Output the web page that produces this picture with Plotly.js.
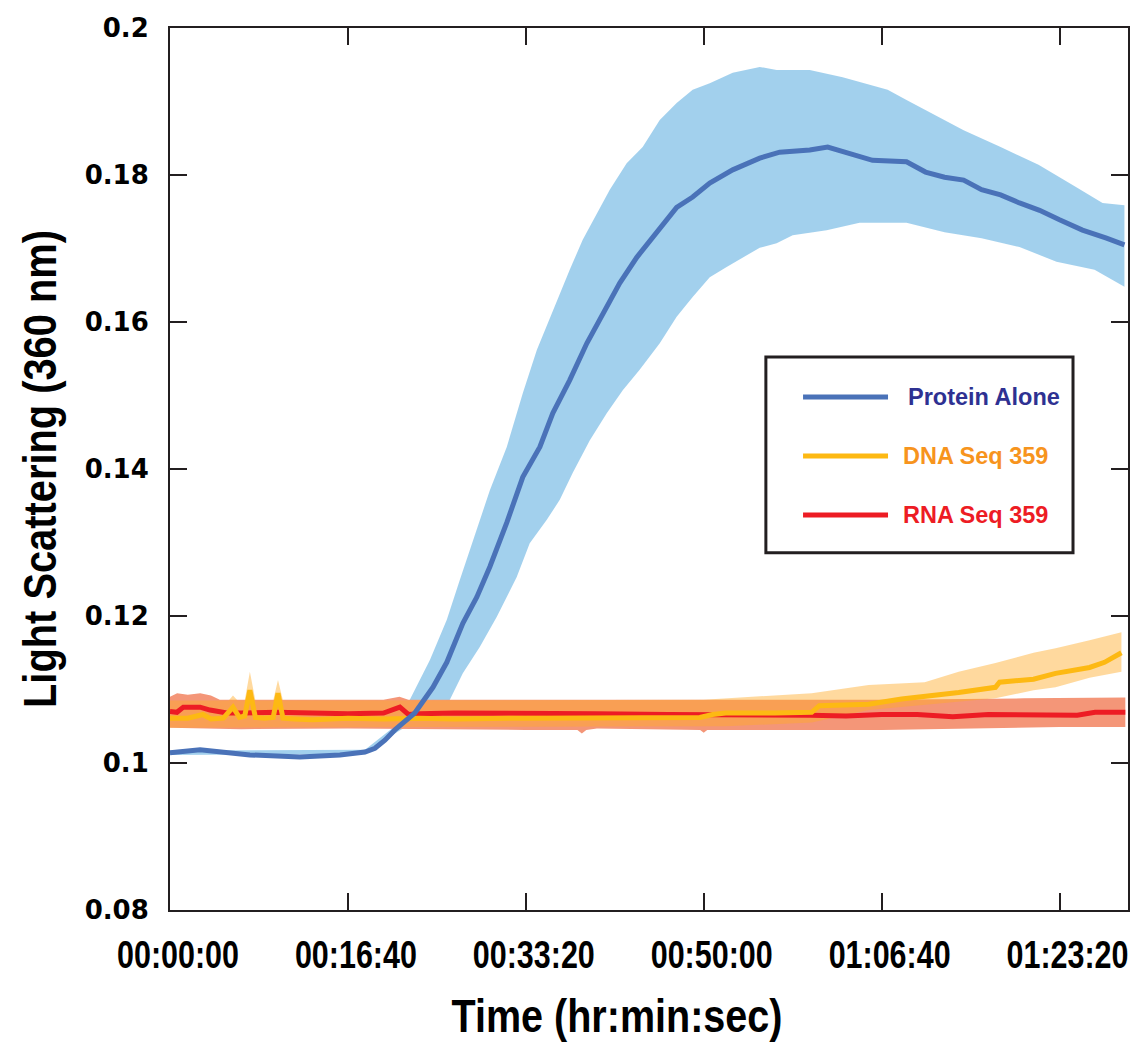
<!DOCTYPE html>
<html>
<head>
<meta charset="utf-8">
<script src="https://cdn.plot.ly/plotly-3.0.1.min.js"></script>
<style>
  html, body { margin: 0; padding: 0; background: #ffffff; }
  #chart { width: 1140px; height: 1043px; }
</style>
</head>
<body>
<div id="chart"></div>
<script>
// ---- Data (time in seconds, light scattering at 360 nm) ----
const tickSeconds = [0, 1000, 2000, 3000, 4000, 5000];
const tickLabels = ["00:00:00", "00:16:40", "00:33:20", "00:50:00", "01:06:40", "01:23:20"];

// Protein Alone (mean)
const proteinT = [0, 169, 449, 730, 955, 1096, 1152, 1208, 1264, 1320, 1376, 1478, 1556, 1646, 1725, 1798, 1893, 1983, 2079, 2152, 2247, 2343, 2433, 2528, 2624, 2736, 2848, 2938, 3034, 3163, 3315, 3427, 3596, 3697, 3803, 3949, 4140, 4247, 4354, 4461, 4562, 4669, 4775, 4888, 5000, 5129, 5264, 5365];
const proteinY = [0.1014, 0.1018, 0.1011, 0.1008, 0.1011, 0.1015, 0.1020, 0.1031, 0.1045, 0.1056, 0.1068, 0.1103, 0.1137, 0.1190, 0.1226, 0.1267, 0.1327, 0.1389, 0.1430, 0.1476, 0.1521, 0.1571, 0.1610, 0.1653, 0.1688, 0.1721, 0.1756, 0.1770, 0.1789, 0.1807, 0.1823, 0.1831, 0.1834, 0.1838, 0.1830, 0.1820, 0.1818, 0.1804, 0.1797, 0.1793, 0.1780, 0.1773, 0.1762, 0.1752, 0.1739, 0.1725, 0.1714, 0.1705];
// Protein Alone band
const proteinUpT = [0, 1096, 1264, 1348, 1461, 1556, 1629, 1742, 1798, 1893, 1983, 2062, 2152, 2247, 2320, 2399, 2472, 2567, 2657, 2753, 2848, 2938, 3034, 3163, 3315, 3410, 3596, 3781, 3876, 4034, 4140, 4247, 4461, 4669, 4882, 5090, 5242, 5365];
const proteinUpY = [0.1017, 0.1018, 0.1050, 0.1086, 0.1140, 0.1195, 0.1249, 0.1331, 0.1371, 0.1430, 0.1503, 0.1562, 0.1616, 0.1671, 0.1712, 0.1748, 0.1780, 0.1816, 0.1838, 0.1875, 0.1898, 0.1916, 0.1925, 0.1939, 0.1947, 0.1943, 0.1943, 0.1933, 0.1927, 0.1916, 0.1902, 0.1888, 0.1861, 0.1838, 0.1814, 0.1784, 0.1762, 0.1759];
const proteinLoT = [0, 1096, 1264, 1573, 1646, 1742, 1837, 1949, 2022, 2118, 2191, 2264, 2360, 2455, 2545, 2640, 2753, 2848, 2938, 3034, 3129, 3219, 3315, 3410, 3500, 3691, 3876, 4140, 4354, 4562, 4775, 4983, 5197, 5365];
const proteinLoY = [0.1011, 0.1012, 0.1040, 0.1086, 0.1122, 0.1158, 0.1199, 0.1253, 0.1299, 0.1331, 0.1358, 0.1395, 0.1439, 0.1476, 0.1507, 0.1535, 0.1571, 0.1607, 0.1634, 0.1661, 0.1675, 0.1688, 0.1701, 0.1707, 0.1718, 0.1725, 0.1735, 0.1735, 0.1722, 0.1714, 0.1702, 0.1682, 0.1671, 0.1648];

// DNA Seq 359 (mean)
const dnaT = [0, 100, 185, 230, 300, 354, 390, 420, 449, 480, 530, 580, 607, 635, 700, 800, 1000, 1200, 1400, 1600, 2000, 2400, 2800, 2978, 3050, 3124, 3400, 3607, 3650, 3927, 4112, 4242, 4433, 4640, 4663, 4854, 4978, 5169, 5253, 5348];
const dnaY = [0.1061, 0.1061, 0.1066, 0.1060, 0.1061, 0.1076, 0.1062, 0.1064, 0.1099, 0.1062, 0.1061, 0.1062, 0.1095, 0.1061, 0.1060, 0.1059, 0.1061, 0.1060, 0.1061, 0.1060, 0.1061, 0.1061, 0.1061, 0.1062, 0.1066, 0.1068, 0.1068, 0.1069, 0.1078, 0.1080, 0.1087, 0.1090, 0.1096, 0.1103, 0.1110, 0.1114, 0.1122, 0.1130, 0.1137, 0.1150];
// DNA band
const dnaUpT = [0, 300, 330, 354, 380, 420, 449, 480, 580, 607, 635, 3000, 3124, 3607, 3927, 4242, 4433, 4640, 4854, 4978, 5169, 5348];
const dnaUpY = [0.1085, 0.1085, 0.1085, 0.1092, 0.1085, 0.1085, 0.1124, 0.1085, 0.1085, 0.1113, 0.1085, 0.1086, 0.1088, 0.1095, 0.1106, 0.1110, 0.1124, 0.1136, 0.1150, 0.1156, 0.1167, 0.1178];
const dnaLoT = [0, 3124, 3607, 3927, 4242, 4640, 4854, 4978, 5169, 5348];
const dnaLoY = [0.1048, 0.1050, 0.1055, 0.1072, 0.1079, 0.1088, 0.1099, 0.1103, 0.1116, 0.1124];

// RNA Seq 359 (mean)
const rnaT = [0, 39, 75, 169, 225, 320, 400, 600, 800, 1000, 1200, 1292, 1340, 1400, 1600, 2000, 2400, 2800, 3200, 3600, 3800, 4000, 4200, 4400, 4600, 4800, 5000, 5100, 5200, 5300, 5370];
const rnaY = [0.1070, 0.1069, 0.1076, 0.1076, 0.1072, 0.1068, 0.1068, 0.1069, 0.1068, 0.1067, 0.1068, 0.1076, 0.1066, 0.1067, 0.1068, 0.1068, 0.1067, 0.1066, 0.1066, 0.1065, 0.1064, 0.1066, 0.1066, 0.1063, 0.1066, 0.1066, 0.1065, 0.1065, 0.1069, 0.1068, 0.1069];
// RNA band
const rnaUpT = [0, 40, 100, 170, 230, 280, 1200, 1290, 1340, 4000, 4800, 5370];
const rnaUpY = [0.1090, 0.1095, 0.1093, 0.1095, 0.1092, 0.1086, 0.1086, 0.1090, 0.1086, 0.1086, 0.1088, 0.1089];
const rnaLoT = [0, 200, 400, 1000, 2000, 2290, 2315, 2340, 2400, 2980, 3000, 3020, 4000, 5000, 5370];
const rnaLoY = [0.1048, 0.1047, 0.1046, 0.1047, 0.1045, 0.1045, 0.1040, 0.1045, 0.1047, 0.1045, 0.1041, 0.1045, 0.1045, 0.1049, 0.1049];

const seriesNames = ["Protein Alone", "DNA Seq 359", "RNA Seq 359"];

// ---- Helpers ----
function band(upT, upY, loT, loY, color, name) {
  return {
    x: upT.concat(loT.slice().reverse()),
    y: upY.concat(loY.slice().reverse()),
    type: 'scatter', mode: 'lines', fill: 'toself',
    fillcolor: color, line: { width: 0, color: color },
    hoverinfo: 'skip', showlegend: false, name: name + ' range'
  };
}
function meanLine(t, y, color, name) {
  return { x: t, y: y, type: 'scatter', mode: 'lines', name: name,
           line: { color: color, width: 5 }, showlegend: false };
}

const BLUE = '#4a72b8', BLUE_BAND = 'rgba(157,205,236,0.95)';
const YEL = '#fdb913', YEL_BAND = 'rgba(255,170,40,0.45)';
const RED = '#ed1c24', RED_BAND = 'rgb(244,150,120)';

const traces = [
  band(proteinUpT, proteinUpY, proteinLoT, proteinLoY, BLUE_BAND, seriesNames[0]),
  band(rnaUpT, rnaUpY, rnaLoT, rnaLoY, RED_BAND, seriesNames[2]),
  band(dnaUpT, dnaUpY, dnaLoT, dnaLoY, YEL_BAND, seriesNames[1]),
  meanLine(rnaT, rnaY, RED, seriesNames[2]),
  meanLine(dnaT, dnaY, YEL, seriesNames[1]),
  meanLine(proteinT, proteinY, BLUE, seriesNames[0])
];

// ---- Legend box (drawn in paper coordinates) ----
const legX0 = 0.622, legX1 = 0.9426, legY0 = 0.405, legY1 = 0.627;
const legRows = [0.5816, 0.5147, 0.4478];
const legLineColors = [BLUE, YEL, RED];
const legTextColors = ['#2e3192', '#f7941d', '#ed1c24'];
const shapes = [{
  type: 'rect', xref: 'paper', yref: 'paper', x0: legX0, x1: legX1, y0: legY0, y1: legY1,
  line: { color: '#231f20', width: 3 }, fillcolor: 'rgba(255,255,255,0)'
}];
const annotations = [];
seriesNames.forEach((n, i) => {
  shapes.push({ type: 'line', xref: 'paper', yref: 'paper', x0: 0.6608, x1: 0.7495,
                y0: legRows[i], y1: legRows[i], line: { color: legLineColors[i], width: 5 } });
  annotations.push({ xref: 'paper', yref: 'paper', x: i === 0 ? 0.768 : 0.763, y: legRows[i],
                     xanchor: 'left', yanchor: 'middle', showarrow: false, text: n,
                     font: { family: 'Liberation Sans, Arial, sans-serif', size: 23.5, weight: 'bold', color: legTextColors[i] } });
});

const sans = '"Liberation Sans", Arial, sans-serif';

const layout = {
  width: 1140, height: 1043,
  margin: { l: 170, r: 12, t: 28, b: 133 },
  paper_bgcolor: '#ffffff', plot_bgcolor: '#ffffff',
  showlegend: false,
  xaxis: {
    range: [0, 5385], tickvals: tickSeconds, ticktext: tickLabels,
    ticks: 'inside', ticklen: 17, tickwidth: 2, tickcolor: '#231f20',
    showline: true, linecolor: '#231f20', linewidth: 2, mirror: 'ticks',
    showgrid: false, zeroline: false, ticklabelshift: 8, ticklabelstandoff: 9,
    ticklabeloverflow: 'allow',
    tickfont: { family: sans, size: 39, weight: 'bold', color: '#000' },
    title: { text: 'Time (hr:min:sec)', standoff: 25,
             font: { family: sans, size: 46, weight: 'bold', color: '#000' } }
  },
  yaxis: {
    range: [0.08, 0.2], tickvals: [0.08, 0.1, 0.12, 0.14, 0.16, 0.18, 0.2],
    ticktext: ['0.08', '0.1', '0.12', '0.14', '0.16', '0.18', '0.2'],
    ticks: 'inside', ticklen: 17, tickwidth: 2, tickcolor: '#231f20',
    showline: true, linecolor: '#231f20', linewidth: 2, mirror: 'ticks',
    showgrid: false, zeroline: false, ticklabelstandoff: 14,
    tickfont: { family: '"DejaVu Sans", Verdana, sans-serif', size: 26, weight: 'bold', color: '#000' },
    title: { text: 'Light Scattering (360 nm)', standoff: 4,
             font: { family: sans, size: 46, weight: 'bold', color: '#000' } }
  },
  shapes: shapes,
  annotations: annotations
};

// Condense text horizontally (along its own direction) to mimic the narrow bold face
function condense(selector, width) {
  document.querySelectorAll(selector).forEach(el => {
    const natural = el.getComputedTextLength();
    if (!natural) return;
    const s = width / natural;
    const x = parseFloat(el.getAttribute('x') || '0');
    const y = parseFloat(el.getAttribute('y') || '0');
    const prev = el.getAttribute('transform') || '';
    el.setAttribute('transform', prev + ' translate(' + x + ',' + y + ') scale(' + s + ',1) translate(' + (-x) + ',' + (-y) + ')');
  });
}
function nudge(selector, dx, dy) {
  document.querySelectorAll(selector).forEach(el => {
    el.setAttribute('transform', 'translate(' + dx + ',' + dy + ')');
  });
}

Plotly.newPlot('chart', traces, layout, { staticPlot: true, displayModeBar: false }).then(() => {
  condense('.xtick text', 122);
  condense('.g-xtitle text', 331);
  condense('.g-ytitle text', 478);
  nudge('.g-xtitle', -32, 0);
  const yt = document.querySelector('.g-ytitle text');
  if (yt) {
    const holder = document.getElementById('chart').getBoundingClientRect();
    const r = yt.getBoundingClientRect();
    const shift = 14 - (r.left - holder.left);
    nudge('.g-ytitle', shift, 0);
  }
});
</script>
</body>
</html>
